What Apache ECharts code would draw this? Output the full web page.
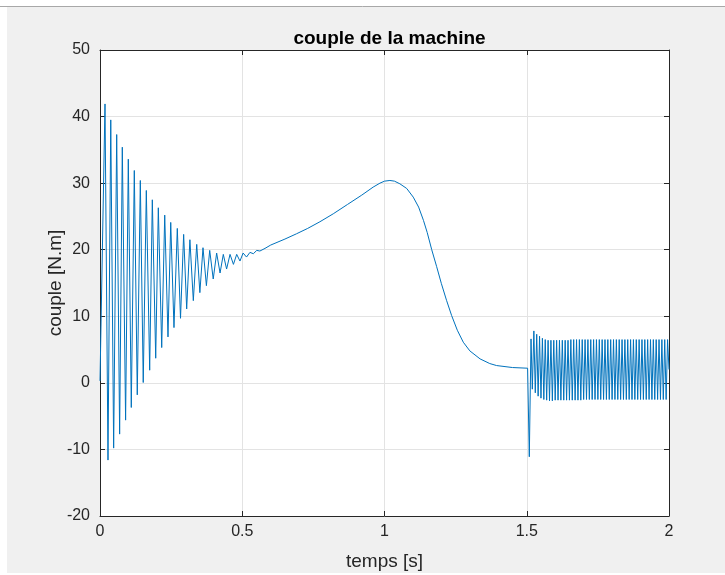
<!DOCTYPE html>
<html>
<head>
    <meta charset="utf-8">
    <title>couple de la machine</title>
    <script src="https://cdn.jsdelivr.net/npm/echarts@6/dist/echarts.min.js"></script>
    <style type="text/css">
        html, body { margin: 0; padding: 0; background: #fff; }
        #main { width: 725px; height: 575px; }
    </style>
</head>
<body>
<div id="main"></div>
<script>
    // axes
    var xTicks = [0, 0.5, 1, 1.5, 2];
    var yTicks = [-20, -10, 0, 10, 20, 30, 40, 50];

    // demarrage : pics / creux [t (s), couple (N.m)]
    var startup = [
        [0, 0.3], [0.0176, 41.9], [0.0281, -11.6], [0.0378, 39.5], [0.048, -9.8],
        [0.0587, 37.3], [0.069, -7.7], [0.0784, 35.4], [0.090, -5.6], [0.0995, 33.6],
        [0.110, -3.7], [0.1206, 31.9], [0.131, -1.8], [0.1417, 30.4], [0.152, 0.05],
        [0.1628, 28.9], [0.1746, 1.9], [0.1839, 27.5], [0.1958, 3.7], [0.2050, 26.3],
        [0.2169, 5.3], [0.2275, 25.2], [0.239, 6.9], [0.2486, 24.1], [0.260, 8.3],
        [0.2717, 23.2], [0.283, 9.7], [0.294, 22.3], [0.3047, 11.1], [0.316, 21.5],
        [0.328, 12.35], [0.340, 20.8], [0.351, 13.55], [0.362, 20.3], [0.374, 14.6],
        [0.3856, 19.9], [0.398, 15.6], [0.410, 19.5], [0.422, 16.5], [0.4334, 19.3],
        [0.445, 17.1], [0.457, 19.3], [0.469, 17.8], [0.4805, 19.3], [0.492, 18.3],
        [0.503, 19.5], [0.515, 18.9], [0.527, 19.6], [0.539, 19.4], [0.551, 19.9],
        [0.562, 19.8]
    ];

    // regime "lent" : montee puis chute du couple
    var ramp = [
        [0.58, 20.2], [0.60, 20.7], [0.65, 21.6], [0.691, 22.4], [0.73, 23.2],
        [0.773, 24.2], [0.82, 25.4], [0.87, 26.8], [0.92, 28.2], [0.96, 29.4],
        [0.984, 30.0], [1.0, 30.3], [1.019, 30.4], [1.035, 30.3], [1.054, 29.9],
        [1.078, 29.2], [1.101, 27.9], [1.12, 26.4], [1.137, 24.4], [1.15, 22.6],
        [1.166, 20.0], [1.183, 17.5], [1.2, 14.9], [1.218, 12.4], [1.236, 10.1],
        [1.256, 7.9], [1.277, 6.1], [1.3, 4.8], [1.336, 3.6], [1.37, 2.9],
        [1.394, 2.6], [1.45, 2.3], [1.503, 2.2]
    ];

    // apres t = 1.5 s : defaut, oscillation entretenue
    var fault = [
        [1.504, 2.2], [1.509, -11.1], [1.515, 6.6], [1.5196, -0.95], [1.525, 7.8],
        [1.530, -1.5], [1.535, 7.3], [1.540, -2.0], [1.545, 7.0], [1.550, -2.3],
        [1.555, 6.7], [1.560, -2.5], [1.565, 6.5], [1.570, -2.6], [1.575, 6.4],
        [1.580, -2.7], [1.585, 6.4], [1.590, -2.7], [1.595, 6.4], [1.600, -2.6],
        [1.605, 6.4], [1.610, -2.6], [1.615, 6.4], [1.620, -2.6], [1.625, 6.4],
        [1.630, -2.6], [1.635, 6.4], [1.640, -2.6], [1.645, 6.4], [1.650, -2.6],
        [1.655, 6.5], [1.660, -2.6], [1.665, 6.5], [1.670, -2.6], [1.675, 6.5],
        [1.680, -2.6], [1.685, 6.5], [1.690, -2.6], [1.695, 6.5], [1.700, -2.5],
        [1.705, 6.5], [1.710, -2.5], [1.715, 6.5], [1.720, -2.5], [1.725, 6.5],
        [1.730, -2.5], [1.735, 6.5], [1.740, -2.5], [1.745, 6.5], [1.750, -2.5],
        [1.755, 6.5], [1.760, -2.5], [1.765, 6.5], [1.770, -2.5], [1.775, 6.5],
        [1.780, -2.5], [1.785, 6.5], [1.790, -2.5], [1.795, 6.5], [1.800, -2.5],
        [1.805, 6.5], [1.810, -2.5], [1.815, 6.5], [1.820, -2.5], [1.825, 6.5],
        [1.830, -2.5], [1.835, 6.5], [1.840, -2.5], [1.845, 6.5], [1.850, -2.5],
        [1.855, 6.5], [1.860, -2.5], [1.865, 6.5], [1.870, -2.5], [1.875, 6.5],
        [1.880, -2.5], [1.885, 6.5], [1.890, -2.5], [1.895, 6.5], [1.900, -2.5],
        [1.905, 6.5], [1.910, -2.5], [1.915, 6.5], [1.920, -2.5], [1.925, 6.5],
        [1.930, -2.5], [1.935, 6.5], [1.940, -2.5], [1.945, 6.5], [1.950, -2.5],
        [1.955, 6.5], [1.960, -2.5], [1.965, 6.5], [1.970, -2.5], [1.975, 6.5],
        [1.980, -2.5], [1.985, 6.5], [1.990, -2.5], [1.995, 6.5], [2.0, 2.0]
    ];

    var txt = '#262626';
    var font = "'Liberation Sans', Arial, sans-serif";

    function axisX(pos, showLabel) {
        return {
            type: 'value', position: pos, min: xTicks[0], max: xTicks[xTicks.length - 1],
            interval: 0.5,
            axisLine: {show: true, onZero: false, lineStyle: {color: txt, width: 1}},
            axisTick: {show: true, inside: true, length: 5, lineStyle: {color: txt}},
            splitLine: {show: showLabel, lineStyle: {color: '#e3e3e3', width: 1}},
            axisLabel: {show: showLabel, color: txt, fontSize: 16, fontFamily: font, margin: 8},
            name: showLabel ? 'temps [s]' : '',
            nameLocation: 'middle', nameGap: 36, nameMoveOverlap: false,
            nameTextStyle: {color: txt, fontSize: 19, fontFamily: font}
        };
    }
    function axisY(pos, showLabel) {
        return {
            type: 'value', position: pos, min: yTicks[0], max: yTicks[yTicks.length - 1],
            interval: 10,
            axisLine: {show: true, onZero: false, lineStyle: {color: txt, width: 1}},
            axisTick: {show: true, inside: true, length: 5, lineStyle: {color: txt}},
            splitLine: {show: showLabel, lineStyle: {color: '#e3e3e3', width: 1}},
            axisLabel: {show: showLabel, color: txt, fontSize: 16, fontFamily: font, margin: 10},
            name: showLabel ? 'couple [N.m]' : '',
            nameLocation: 'middle', nameGap: 35, nameMoveOverlap: false,
            nameTextStyle: {color: txt, fontSize: 19, fontFamily: font}
        };
    }

    var chart = echarts.init(document.getElementById('main'));
    var option = {
        animation: false,
        backgroundColor: '#f0f0f0',
        title: {
            text: 'couple de la machine',
            left: 384.5, top: 24, textAlign: 'center',
            textStyle: {color: '#000', fontSize: 19, fontWeight: 'bold', fontFamily: font}
        },
        grid: {left: 100, right: 56, top: 50, bottom: 59, show: true,
               outerBoundsMode: 'none', containLabel: false,
               backgroundColor: '#fff', borderWidth: 0},
        graphic: [
            {type: 'rect', shape: {x: 0, y: 0, width: 725, height: 6}, style: {fill: '#fff'}},
            {type: 'rect', shape: {x: 0, y: 0, width: 7, height: 575}, style: {fill: '#fff'}},
            {type: 'rect', shape: {x: 0, y: 573, width: 725, height: 2}, style: {fill: '#fff'}},
            {type: 'line', shape: {x1: 0, y1: 6.5, x2: 725, y2: 6.5}, style: {stroke: '#a8a8a8', lineWidth: 1}}
        ],
        xAxis: [axisX('bottom', true), axisX('top', false)],
        yAxis: [axisY('left', true), axisY('right', false)],
        series: [{
            type: 'line',
            xAxisIndex: 0, yAxisIndex: 0,
            data: startup.concat(ramp, fault),
            showSymbol: false,
            smooth: false,
            lineStyle: {color: '#0072bd', width: 1},
            itemStyle: {color: '#0072bd'}
        }]
    };
    chart.setOption(option);
</script>
</body>
</html>
